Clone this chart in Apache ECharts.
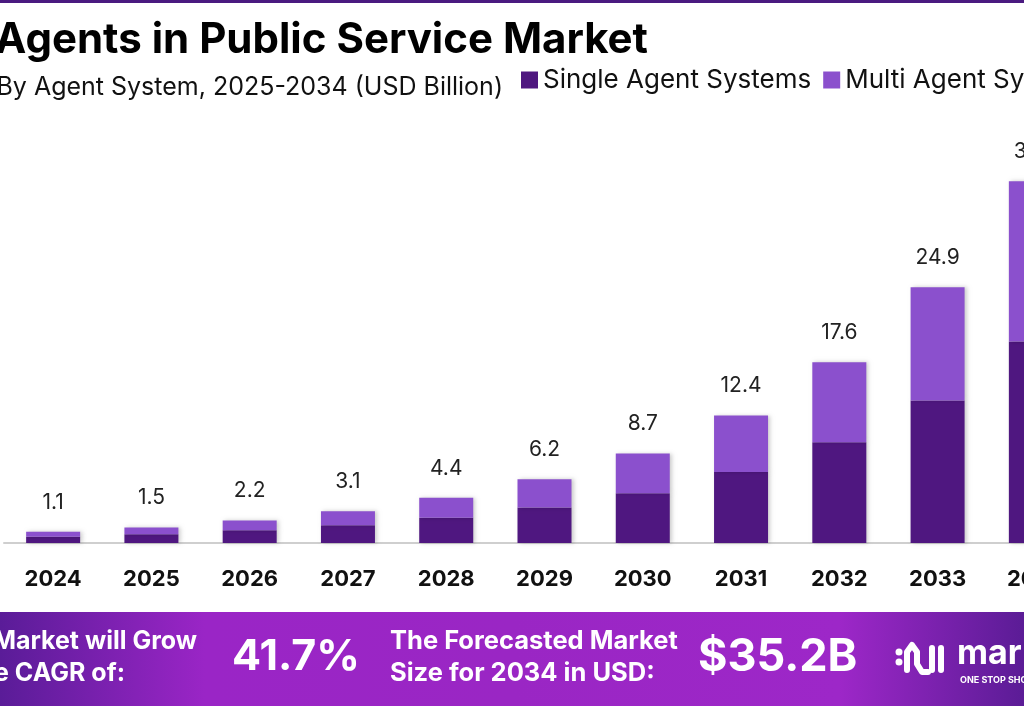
<!DOCTYPE html>
<html>
<head>
<meta charset="utf-8">
<title>AI Agents in Public Service Market</title>
<script src="https://cdn.jsdelivr.net/npm/echarts@6/dist/echarts.min.js"></script>
<style>
  html, body { margin: 0; padding: 0; background: #fff; }
  #chart { width: 1024px; height: 706px; }
</style>
</head>
<body>
<div id="chart"></div>
<script>
// Datos del gráfico
const years = ['2024', '2025', '2026', '2027', '2028', '2029', '2030', '2031', '2032', '2033', '2034'];
const singleAgent = [0.61, 0.84, 1.23, 1.73, 2.45, 3.45, 4.85, 6.91, 9.80, 13.87, 19.61];
const multiAgent = [0.49, 0.66, 0.97, 1.37, 1.95, 2.75, 3.85, 5.49, 7.80, 11.03, 15.59];
const totals = ['1.1', '1.5', '2.2', '3.1', '4.4', '6.2', '8.7', '12.4', '17.6', '24.9', '35.2'];

const FONT = 'Inter, "Open Sans", sans-serif';

const chart = echarts.init(document.getElementById('chart'));

// Texto blanco del banner inferior
function bannerText(text, x, y, size, align) {
    return {
        type: 'text',
        x: x,
        y: y,
        style: {
            text: text,
            fill: '#ffffff',
            font: 'bold ' + size + 'px ' + FONT,
            textAlign: align || 'left',
            textVerticalAlign: 'middle',
            shadowBlur: 6,
            shadowColor: 'rgba(40,0,70,0.45)',
            shadowOffsetX: 2,
            shadowOffsetY: 3
        }
    };
}

const option = {
    animation: false,
    backgroundColor: '#ffffff',
    legend: {
        data: ['Single Agent Systems', 'Multi Agent Systems'],
        left: 516,
        top: 62,
        width: 900,
        itemWidth: 17,
        itemHeight: 17,
        itemGap: 12,
        icon: 'rect',
        textStyle: { fontFamily: FONT, fontSize: 26, color: '#111' }
    },
    grid: {
        left: 4,
        width: 1081,
        top: 132,
        bottom: 163,
        outerBoundsMode: 'none'
    },
    xAxis: {
        type: 'category',
        data: years,
        axisTick: { show: false },
        axisLine: { lineStyle: { color: '#cfcfcf', width: 2 } },
        axisLabel: {
            margin: 25,
            fontFamily: FONT,
            fontSize: 22,
            fontWeight: 'bold',
            color: '#111'
        }
    },
    yAxis: {
        type: 'value',
        min: 0,
        max: 40,
        show: false,
        splitLine: { show: false }
    },
    series: [
        {
            name: 'Single Agent Systems',
            type: 'bar',
            stack: 'total',
            barWidth: 54,
            data: singleAgent,
            itemStyle: {
                color: '#4f1780',
                shadowBlur: 4,
                shadowColor: 'rgba(0,0,0,0.2)',
                shadowOffsetX: 2
            }
        },
        {
            name: 'Multi Agent Systems',
            type: 'bar',
            stack: 'total',
            barWidth: 54,
            data: multiAgent,
            itemStyle: {
                color: '#8b50cd',
                shadowBlur: 4,
                shadowColor: 'rgba(0,0,0,0.2)',
                shadowOffsetX: 2
            },
            label: {
                show: true,
                position: 'top',
                distance: 19,
                fontFamily: FONT,
                fontSize: 21,
                color: '#222',
                formatter: p => totals[p.dataIndex]
            }
        }
    ],
    graphic: [
        // Línea superior
        { type: 'rect', shape: { x: 0, y: 0, width: 1024, height: 3 }, style: { fill: '#4a1a80' } },
        // Título y subtítulo
        {
            type: 'text', x: 648, y: 40,
            style: {
                text: 'AI Agents in Public Service Market',
                fill: '#000', font: 'bold 42px ' + FONT,
                textAlign: 'right', textVerticalAlign: 'middle'
            }
        },
        {
            type: 'text', x: 503, y: 87,
            style: {
                text: 'By Agent System, 2025-2034 (USD Billion)',
                fill: '#111', font: '25px ' + FONT,
                textAlign: 'right', textVerticalAlign: 'middle'
            }
        },
        // Banner inferior
        {
            type: 'rect',
            shape: { x: 0, y: 612, width: 1024, height: 94 },
            style: {
                fill: new echarts.graphic.LinearGradient(0, 0, 1, 0, [
                    { offset: 0, color: '#5a1c98' },
                    { offset: 0.2, color: '#9a25c6' },
                    { offset: 0.5, color: '#9a26c4' },
                    { offset: 0.82, color: '#9d27c8' },
                    { offset: 1, color: '#5b1c96' }
                ])
            }
        },
        bannerText('The Market will Grow', 197, 641, 25, 'right'),
        bannerText('At The CAGR of:', 125, 673, 25, 'right'),
        bannerText('41.7%', 232, 657, 43),
        bannerText('The Forecasted Market', 390, 641, 25.5),
        bannerText('Size for 2034 in USD:', 390, 673, 25.5),
        bannerText('$35.2B', 698, 657, 45),
        // Logo
        {
            type: 'group', x: 895, y: 640,
            children: [
                { type: 'circle', shape: { cx: 4, cy: 22, r: 3.5 }, style: { fill: '#fff' } },
                { type: 'circle', shape: { cx: 4, cy: 12, r: 3.5 }, style: { fill: '#fff' } },
                {
                    type: 'polyline',
                    shape: { points: [[12, 30], [12, 12], [17, 5], [22, 12], [22, 24], [27, 32], [33, 32]] },
                    style: { stroke: '#fff', lineWidth: 6, fill: null, lineCap: 'round', lineJoin: 'round' }
                },
                { type: 'line', shape: { x1: 37, y1: 8, x2: 37, y2: 30 }, style: { stroke: '#fff', lineWidth: 6, lineCap: 'round' } },
                { type: 'line', shape: { x1: 46, y1: 8, x2: 46, y2: 30 }, style: { stroke: '#fff', lineWidth: 6, lineCap: 'round' } }
            ]
        },
        {
            type: 'text', x: 957, y: 654,
            style: { text: 'market.us', fill: '#fff', font: 'bold 34px ' + FONT, textVerticalAlign: 'middle' }
        },
        {
            type: 'text', x: 960, y: 680,
            style: { text: 'ONE STOP SHOP FOR THE REPORTS', fill: '#fff', font: 'bold 9px ' + FONT, textVerticalAlign: 'middle' }
        }
    ]
};

chart.setOption(option);
</script>
</body>
</html>
